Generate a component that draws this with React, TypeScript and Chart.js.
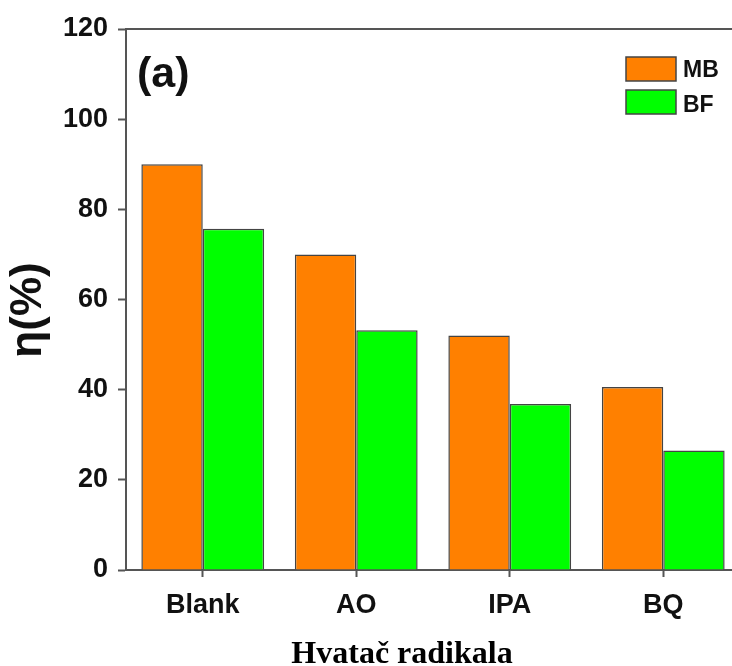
import React, { useEffect, useRef } from "react";
import { Chart, registerables } from "chart.js";

Chart.register(...registerables);

const categories = ["Blank", "AO", "IPA", "BQ"];
const mbValues = [90, 70, 52, 40.6];
const bfValues = [75.7, 53.2, 36.8, 26.5];
const seriesNames = ["MB", "BF"];
const seriesColors = ["#FF8000", "#00FF00"];
const yTicks = [0, 20, 40, 60, 80, 100, 120];
const xTitle = "Hvatač radikala";
const yTitle = "η(%)";
const panelLabel = "(a)";

const SANS = "'Liberation Sans', Arial, sans-serif";
const SERIF = "'Liberation Serif', 'Times New Roman', serif";

const decorPlugin = {
  id: "decor",
  afterDraw(chart: any) {
    const { ctx, chartArea } = chart;
    ctx.save();
    // top frame line
    ctx.strokeStyle = "#555";
    ctx.lineWidth = 2;
    ctx.beginPath();
    ctx.moveTo(chartArea.left - 1, chartArea.top);
    ctx.lineTo(chartArea.right, chartArea.top);
    ctx.stroke();

    ctx.fillStyle = "#111";
    // panel label
    ctx.font = `bold 43px ${SANS}`;
    ctx.textAlign = "left";
    ctx.textBaseline = "alphabetic";
    ctx.fillText(panelLabel, 137, 87);

    // legend
    const boxX = 626, boxW = 50, boxH = 24;
    const boxYs = [57, 90];
    const textBase = [77, 112];
    seriesNames.forEach((name, i) => {
      ctx.fillStyle = seriesColors[i];
      ctx.fillRect(boxX, boxYs[i], boxW, boxH);
      ctx.strokeStyle = "#444";
      ctx.lineWidth = 1.5;
      ctx.strokeRect(boxX, boxYs[i], boxW, boxH);
      ctx.fillStyle = "#111";
      ctx.font = `bold 23px ${SANS}`;
      ctx.fillText(name, 683, textBase[i]);
    });

    // x title
    ctx.font = `bold 32px ${SERIF}`;
    ctx.textAlign = "center";
    ctx.fillStyle = "#000";
    ctx.fillText(xTitle, 402, 663);

    // y title
    ctx.translate(29, 310);
    ctx.rotate(-Math.PI / 2);
    ctx.font = `bold 44px ${SANS}`;
    ctx.textAlign = "center";
    ctx.textBaseline = "middle";
    ctx.fillStyle = "#111";
    ctx.fillText(yTitle, 0, 0);
    ctx.restore();
  },
};

export default function App() {
  const ref = useRef<HTMLCanvasElement | null>(null);
  useEffect(() => {
    if (!ref.current) return;
    const chart = new Chart(ref.current, {
      type: "bar",
      data: {
        labels: categories,
        datasets: [
          {
            label: seriesNames[0],
            data: mbValues,
            backgroundColor: seriesColors[0],
            borderColor: "#444",
            borderWidth: 1.5,
            categoryPercentage: 0.8,
            barPercentage: 1.0,
          },
          {
            label: seriesNames[1],
            data: bfValues,
            backgroundColor: seriesColors[1],
            borderColor: "#444",
            borderWidth: 1.5,
            categoryPercentage: 0.8,
            barPercentage: 1.0,
          },
        ],
      },
      options: {
        animation: false,
        responsive: false,
        maintainAspectRatio: false,
        layout: { padding: { left: 0, top: 29, right: 5, bottom: 0 } },
        plugins: { legend: { display: false }, tooltip: { enabled: false } },
        scales: {
          x: {
            offset: true,
            grid: {
              offset: false,
              drawOnChartArea: false,
              tickLength: 7,
              tickColor: "#555",
              tickWidth: 2,
            },
            border: { color: "#555", width: 2 },
            ticks: {
              color: "#111",
              padding: 12,
              font: { family: SANS, weight: "bold", size: 27 },
            },
            afterFit: (s: any) => {
              s.height = 96;
            },
          },
          y: {
            min: 0,
            max: 120,
            afterBuildTicks: (s: any) => {
              s.ticks = yTicks.map((v) => ({ value: v }));
            },
            grid: {
              drawOnChartArea: false,
              tickLength: 8,
              tickColor: "#555",
              tickWidth: 2,
            },
            border: { color: "#555", width: 2 },
            ticks: {
              color: "#111",
              padding: 10,
              font: { family: SANS, weight: "bold", size: 27 },
            },
            afterFit: (s: any) => {
              s.width = 126;
            },
          },
        },
      },
      plugins: [decorPlugin],
    } as any);
    return () => chart.destroy();
  }, []);

  return (
    <div
      style={{
        position: "fixed",
        left: 0,
        top: 0,
        width: 732,
        height: 666,
        overflow: "hidden",
        background: "#fff",
      }}
    >
      <canvas
        ref={ref}
        width={745}
        height={666}
        style={{ width: 745, height: 666, display: "block" }}
      />
    </div>
  );
}
